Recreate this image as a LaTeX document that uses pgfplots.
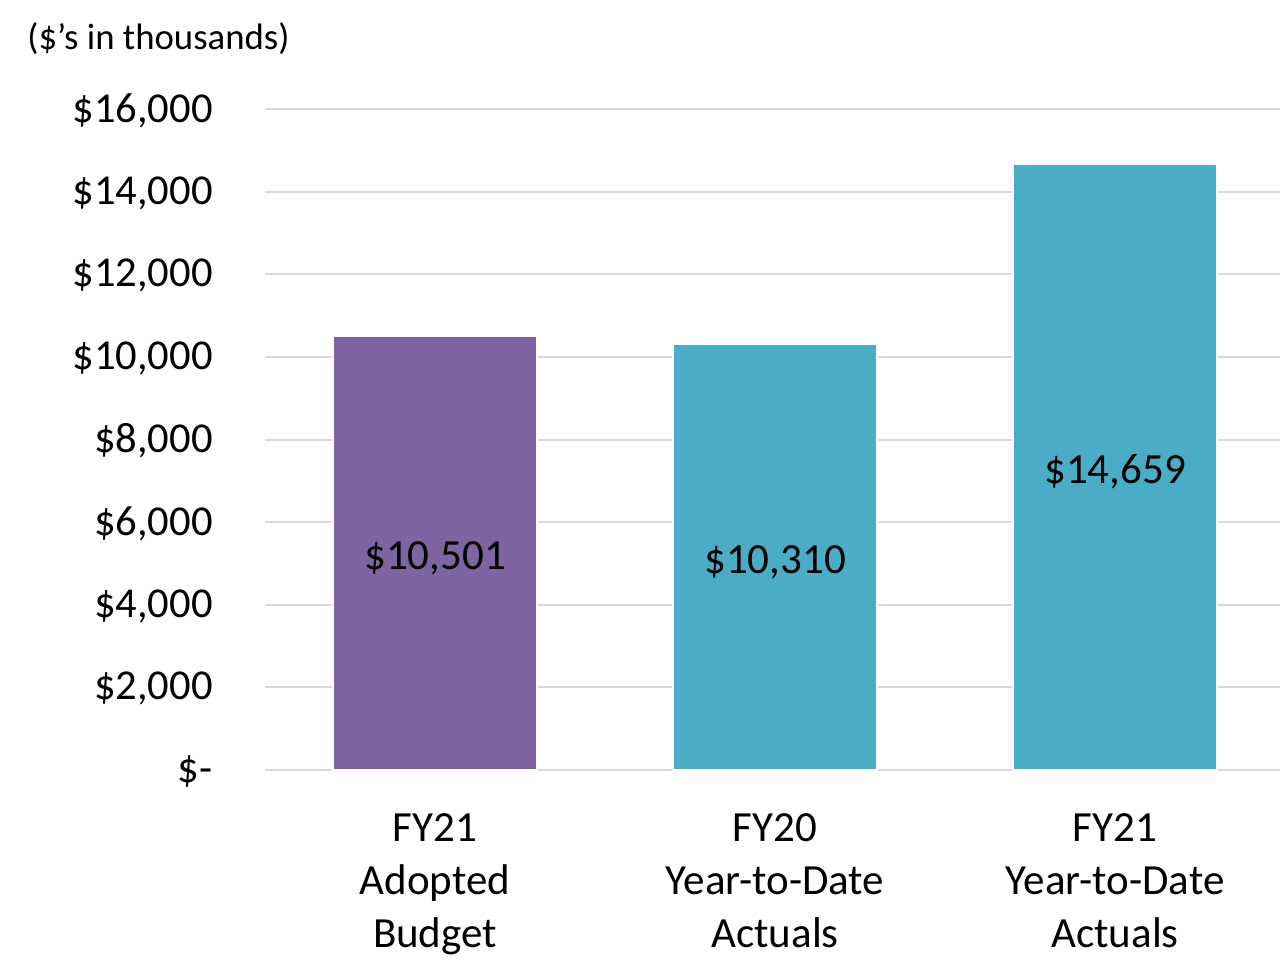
\documentclass[border=0pt]{standalone}
\usepackage{pgfplots}
\pgfplotsset{compat=1.18}
\usepackage{fontspec}
\setmainfont{Carlito}
\definecolor{barpurple}{HTML}{8064A2}
\definecolor{barteal}{HTML}{4BACC6}
\definecolor{gridgray}{HTML}{D9D9D9}
\begin{document}
\begin{tikzpicture}
\useasboundingbox (0,0) rectangle (640pt,-479.5pt);
\node[anchor=west, inner sep=0pt, font=\fontsize{18.4pt}{22pt}\selectfont] at (13.5pt,-19.5pt) {(\$’s in thousands)};
\begin{axis}[
  at={(132.5pt,-385pt)}, anchor=south west,
  scale only axis,
  width=507.5pt, height=330.5pt,
  xmin=-0.5, xmax=2.485,
  ymin=0, ymax=16000,
  scaled y ticks=false,
  axis line style={draw=none},
  tick style={draw=none},
  major tick length=0pt,
  ymajorgrids,
  grid style={gridgray, line width=1pt},
  ytick={0,2000,4000,6000,8000,10000,12000,14000,16000},
  yticklabels={\$-,{\$2,000},{\$4,000},{\$6,000},{\$8,000},{\$10,000},{\$12,000},{\$14,000},{\$16,000}},
  yticklabel style={inner sep=0pt, xshift=-26pt, yshift=-0.7pt, font=\fontsize{21.3pt}{26pt}\selectfont},
  xtick={0,1,2},
  xticklabels={{FY21\\Adopted\\Budget},{FY20\\Year-to-Date\\Actuals},{FY21\\Year-to-Date\\Actuals}},
  xticklabel style={align=center, anchor=north, inner sep=0pt, yshift=-21.5pt, font=\fontsize{21.5pt}{26.5pt}\selectfont},
  clip=false,
]
\addplot[ybar, bar width=102pt, fill=barpurple, draw=white, line width=0.8pt] coordinates {(0,10501)};
\addplot[ybar, bar width=102pt, fill=barteal, draw=white, line width=0.8pt] coordinates {(1,10310) (2,14659)};
\addplot[only marks, mark=none, point meta=explicit symbolic,
  nodes near coords, every node near coord/.append style={anchor=center, inner sep=0pt, yshift=-2.5pt, font=\fontsize{21.5pt}{26pt}\selectfont}]
  coordinates {(0,5250.5)[\$10,501] (1,5155)[\$10,310] (2,7329.5)[\$14,659]};
\end{axis}
\end{tikzpicture}
\end{document}
